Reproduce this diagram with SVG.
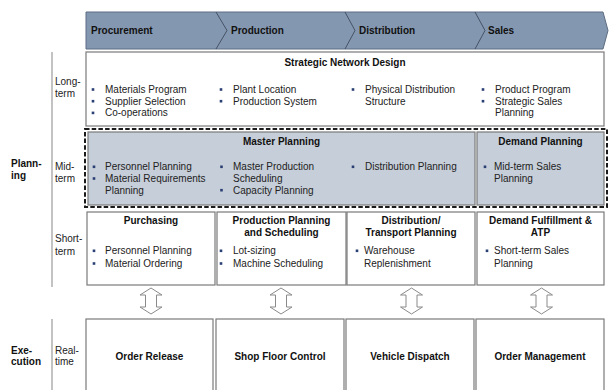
<svg xmlns="http://www.w3.org/2000/svg" width="610" height="390" viewBox="0 0 610 390">
<style>
text{font-family:"Liberation Sans",Arial,sans-serif;font-size:10px;fill:#222}
.b{font-weight:bold;fill:#111}
.m{text-anchor:middle}
.box{fill:#fff;stroke:#7a7a7a;stroke-width:1.2}
.gbox{fill:#c6ced9;stroke:#7a7a7a;stroke-width:1.2}
.blt{fill:#2a3f73}
.vl{stroke:#9a9a9a;stroke-width:1.2;fill:none}
.dv{stroke:#3c4a5c;stroke-width:0.9;fill:none}
.arr{fill:#fff;stroke:#8a8a8a;stroke-width:1}
</style>
<defs>
<path id="dbl" class="arr" d="M0,288 L11,295 L5.5,295 L5.5,307 L11,307 L0,314 L-11,307 L-5.5,307 L-5.5,295 L-11,295 Z"/>
<rect id="bl" class="blt" x="-1.3" y="-1.3" width="2.6" height="2.6"/>
</defs>
<rect width="610" height="390" fill="#fff"/>

<g id="header">
<polygon points="86,12 603,12 608,30.5 603,49 86,49" fill="#8497b0" stroke="#5d6d82" stroke-width="1"/>
<polyline class="dv" points="216,12 227,30.5 216,49"/>
<polyline class="dv" points="345,12 355,30.5 345,49"/>
<polyline class="dv" points="475,12 485,30.5 475,49"/>
<text class="b" x="91" y="33.7">Procurement</text>
<text class="b" x="231" y="33.7">Production</text>
<text class="b" x="359" y="33.7">Distribution</text>
<text class="b" x="488" y="33.7">Sales</text>
</g>

<g id="row-labels">
<line class="vl" x1="52" y1="52" x2="52" y2="287"/>
<line class="vl" x1="52" y1="319" x2="52" y2="390"/>
<text class="b" x="11" y="167">Plann-</text>
<text class="b" x="11" y="179.3">ing</text>
<text x="55" y="85.3">Long-</text>
<text x="55" y="97">term</text>
<text x="55" y="170.3">Mid-</text>
<text x="55" y="182">term</text>
<text x="55" y="242">Short-</text>
<text x="55" y="254.7">term</text>
<text class="b" x="11" y="354.3">Exe-</text>
<text class="b" x="11" y="365.3">cution</text>
<text x="55" y="354">Real-</text>
<text x="55" y="365">time</text>
</g>

<g id="strategic">
<rect class="box" x="86" y="52" width="518" height="74"/>
<text class="b m" x="345" y="66.3">Strategic Network Design</text>
<use href="#bl" x="93" y="89.5"/><text x="105" y="93">Materials Program</text>
<use href="#bl" x="93" y="101.2"/><text x="105" y="104.7">Supplier Selection</text>
<use href="#bl" x="93" y="112.9"/><text x="105" y="116.4">Co-operations</text>
<use href="#bl" x="221" y="89.5"/><text x="233" y="93">Plant Location</text>
<use href="#bl" x="221" y="101.2"/><text x="233" y="104.7">Production System</text>
<use href="#bl" x="353" y="89.5"/><text x="365" y="93">Physical Distribution</text>
<text x="365" y="104.7">Structure</text>
<use href="#bl" x="483" y="89.5"/><text x="495" y="93">Product Program</text>
<use href="#bl" x="483" y="101.2"/><text x="495" y="104.7">Strategic Sales</text>
<text x="495" y="116.4">Planning</text>
</g>

<g id="midterm">
<rect x="85" y="129" width="522" height="78" fill="none" stroke="#1a1a1a" stroke-width="2" stroke-dasharray="4.5 2.2"/>
<g id="master-planning">
<rect class="gbox" x="88" y="132" width="387" height="73"/>
<text class="b m" x="281.5" y="145.3">Master Planning</text>
<use href="#bl" x="94" y="166.8"/><text x="105" y="170.3">Personnel Planning</text>
<use href="#bl" x="94" y="178.5"/><text x="105" y="182">Material Requirements</text>
<text x="105" y="193.7">Planning</text>
<use href="#bl" x="221.5" y="166.8"/><text x="233" y="170.3">Master Production</text>
<text x="233" y="182">Scheduling</text>
<use href="#bl" x="221.5" y="190.2"/><text x="233" y="193.7">Capacity Planning</text>
<use href="#bl" x="353" y="166.8"/><text x="365" y="170.3">Distribution Planning</text>
</g>
<g id="demand-planning">
<rect class="gbox" x="477" y="132" width="127" height="73"/>
<text class="b m" x="540.5" y="145.3">Demand Planning</text>
<use href="#bl" x="485" y="166.8"/><text x="494" y="170.3">Mid-term Sales</text>
<text x="494" y="182">Planning</text>
</g>
</g>

<g id="purchasing">
<rect class="box" x="87" y="212" width="128" height="73"/>
<text class="b m" x="151" y="223.7">Purchasing</text>
<use href="#bl" x="94" y="250.8"/><text x="105" y="254.3">Personnel Planning</text>
<use href="#bl" x="94" y="263.5"/><text x="105" y="267">Material Ordering</text>
</g>
<g id="production-planning">
<rect class="box" x="217" y="212" width="129" height="73"/>
<text class="b m" x="281.5" y="223.7">Production Planning</text>
<text class="b m" x="281.5" y="236.3">and Scheduling</text>
<use href="#bl" x="221" y="250.8"/><text x="233" y="254.3">Lot-sizing</text>
<use href="#bl" x="221" y="263.5"/><text x="233" y="267">Machine Scheduling</text>
</g>
<g id="transport-planning">
<rect class="box" x="347" y="212" width="128" height="73"/>
<text class="b m" x="411" y="223.7">Distribution/</text>
<text class="b m" x="411" y="236.3">Transport Planning</text>
<use href="#bl" x="357" y="250.8"/><text x="364" y="254.3">Warehouse</text>
<text x="364" y="267">Replenishment</text>
</g>
<g id="demand-fulfillment">
<rect class="box" x="477" y="212" width="127" height="73"/>
<text class="b m" x="540.5" y="223.7">Demand Fulfillment &amp;</text>
<text class="b m" x="540.5" y="236.3">ATP</text>
<use href="#bl" x="487" y="250.8"/><text x="494" y="254.3">Short-term Sales</text>
<text x="494" y="267">Planning</text>
</g>

<g id="connectors">
<use href="#dbl" x="151"/>
<use href="#dbl" x="281"/>
<use href="#dbl" x="411.5"/>
<use href="#dbl" x="541.5"/>
</g>

<g id="order-release">
<rect class="box" x="86" y="319" width="127" height="75"/>
<text class="b m" x="149.5" y="359.7">Order Release</text>
</g>
<g id="shop-floor">
<rect class="box" x="216" y="319" width="128" height="75"/>
<text class="b m" x="280" y="359.7">Shop Floor Control</text>
</g>
<g id="vehicle-dispatch">
<rect class="box" x="346" y="319" width="128" height="75"/>
<text class="b m" x="410" y="359.7">Vehicle Dispatch</text>
</g>
<g id="order-management">
<rect class="box" x="476" y="319" width="128" height="75"/>
<text class="b m" x="540" y="359.7">Order Management</text>
</g>
</svg>
